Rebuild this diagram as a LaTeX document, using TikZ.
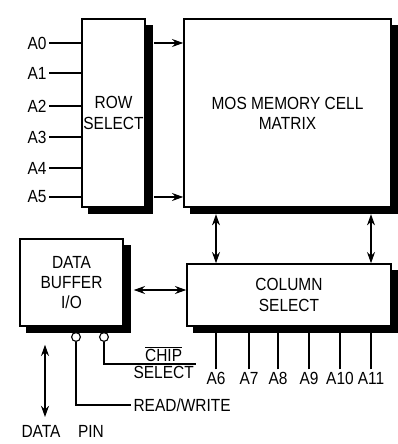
\documentclass[tikz,border=0pt]{standalone}
\usepackage{fontspec}
\setmainfont{Liberation Sans}[FakeStretch=0.88]
\usetikzlibrary{positioning,backgrounds,arrows.meta}
\tikzset{
  blk/.style={draw, line width=1.1pt, fill=white, align=center, inner sep=1pt},
  pinc/.style={circle, draw, line width=0.8pt, fill=white, inner sep=0pt, minimum size=2.2mm},
  lbl/.style={inner sep=0.5mm}
}
\begin{document}
\begin{tikzpicture}[x=0.025cm, y=-0.025cm, >={Stealth[length=2.8mm,width=2mm]}, line width=0.75pt,
	font=\fontsize{12.5}{14.3}\selectfont]
	\useasboundingbox (0,0) rectangle (397,444);
	% blocks
	\node (rowsel) at (113.5,113) [blk, minimum width=1.525cm, minimum height=4.7cm] {ROW\\SELECT};
	\node (matrix) at (287.5,113) [blk, minimum width=5.175cm, minimum height=4.7cm] {MOS MEMORY CELL\\MATRIX};
	\node (buffer) at (71.5,282.5) [blk, minimum width=2.575cm, minimum height=2.175cm] {DATA\\BUFFER\\I/O};
	\node (colsel) at (289,295) [blk, minimum width=5.1cm, minimum height=1.55cm] {COLUMN\\SELECT};
	% shadows
	\begin{scope}[on background layer]
		\foreach \n in {rowsel,matrix,buffer,colsel}
			\fill ([shift={(0.18cm,-0.16cm)}]\n.south west) rectangle ([shift={(0.18cm,-0.16cm)}]\n.north east);
	\end{scope}
	% row address
	\foreach \i/\y in {0/43,1/73,2/106,3/137,4/168,5/197}{
		\node (a\i) at (49,\y) [lbl, left] {A\i};
		\draw (a\i.east) -- (a\i -| rowsel.west);
	}
	\draw[->] ([xshift=2mm]rowsel.east |- a0) -- (matrix.west |- a0);
	\draw[->] ([xshift=2mm]rowsel.east |- a5) -- (matrix.west |- a5);
	% column address
	\foreach \i/\x in {6/216,7/249,8/278,9/309,10/340,11/371}{
		\node (a\i) at (\x,378) [lbl] {A\i};
		\draw (a\i.north) -- (a\i |- colsel.south);
	}
	\draw[<->] ([yshift=-1.6mm]matrix.south -| a6) -- (colsel.north -| a6);
	\draw[<->] ([yshift=-1.6mm]matrix.south -| a11) -- (colsel.north -| a11);
	\coordinate (bus) at (160,290);
	\draw[<->] ([xshift=2.5mm]buffer.east |- bus) -- (colsel.west |- bus);
	% control pins
	\node (rw) at (76,337) [pinc] {};
	\node (cs) at (104,337) [pinc] {};
	\node (rwl) at (131,405) [lbl, right] {READ/WRITE};
	\draw (rw) |- (rwl);
	\node (sel) at (131,364) [lbl, anchor=north west] {SELECT};
	\node (chip) [lbl, above=0pt of sel] {$\overline{\mbox{CHIP}}$};
	\draw (cs) |- (sel.north east);
	% data pin
	\node (data) at (41,431) [lbl] {DATA};
	\node (pin) at (91,431) [lbl] {PIN};
	\coordinate (dbus) at (45,417);
	\draw[<->] ([yshift=-4.5mm]buffer.south -| dbus) -- (dbus);
\end{tikzpicture}
\end{document}
